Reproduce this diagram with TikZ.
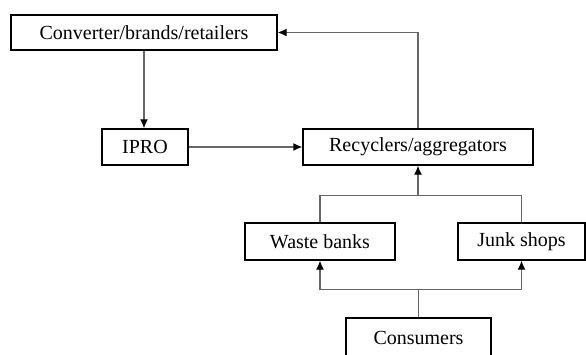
\documentclass[tikz,border=0pt]{standalone}
\usepackage{fontspec}
\setmainfont{Liberation Serif}
\usetikzlibrary{arrows.meta,positioning}

\tikzset{
    box/.style={draw, line width=1.3pt, inner sep=0pt, font=\fontsize{20}{24}\selectfont},
    link/.style={draw=black!60, line width=1.3pt},
    arr/.style={link, -{Latex[length=9pt,width=8pt,color=black]}}
}

\begin{document}
\begin{tikzpicture}[x=1pt, y=1pt]

    % Page frame
    \useasboundingbox (0,0) rectangle (586,354);

    % Boxes
    \node[box, minimum width=266pt, minimum height=35pt] (conv) at (144,321.5) {Converter/brands/retailers};
    \node[box, minimum width=86pt, minimum height=36pt] (ipro) at (145,207) {IPRO};
    \node[box, minimum width=230pt, minimum height=36pt] (recyc) at (418,207) {Recyclers/aggregators};
    \node[box, minimum width=150pt, minimum height=37pt] (waste) at (320,112.5) {Waste banks};
    \node[box, minimum width=127pt, minimum height=37pt] (junk) at (521.5,112.5) {Junk shops};
    \node[box, minimum width=145pt, minimum height=40pt] (cons) at (418.5,16) {Consumers};

    % Joints of the branching lines
    \coordinate (merge) at ([yshift=-30pt]recyc.south);
    \coordinate (split) at ([yshift=28pt]cons.north);

    % Upper flows
    \draw[arr] (conv.south) -- (conv.south |- ipro.north);
    \draw[arr] (ipro) -- (recyc);
    \draw[arr] (recyc.north) |- (conv.east);

    % Collectors feed the recyclers
    \draw[link] (waste.north) |- (merge) -| (junk.north);
    \draw[arr] (merge) -- (recyc.south);

    % Consumers feed the collectors
    \draw[link] (cons.north) -- (split);
    \draw[arr] (split) -| (waste.south);
    \draw[arr] (split) -| (junk.south);

\end{tikzpicture}
\end{document}
